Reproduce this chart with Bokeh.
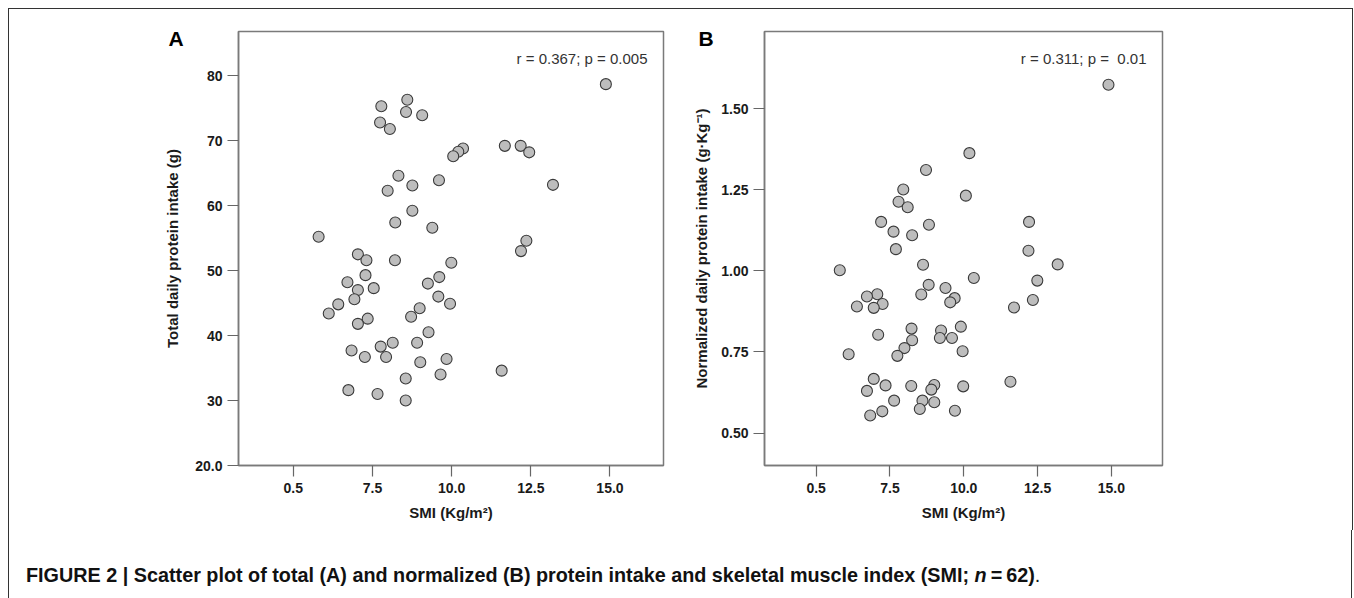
from bokeh.plotting import figure
from bokeh.models import Label, Div, NumeralTickFormatter, FixedTicker, Range1d
from bokeh.layouts import column, row
from bokeh.embed import file_html
from bokeh.resources import INLINE

# ---------------- data ----------------
smi_a = [14.87, 7.78, 8.6, 8.56, 9.07, 7.74, 8.05, 11.68, 12.18, 12.45,
         10.36, 10.21, 10.05, 8.32, 9.6, 8.76, 7.98, 13.2, 8.76, 8.22,
         9.39, 5.8, 12.36, 12.19, 7.04, 7.31, 8.21, 9.99, 7.28, 6.71,
         9.61, 9.25, 7.04, 7.54, 6.93, 6.42, 9.58, 9.95, 6.12, 8.99,
         8.72, 7.35, 7.04, 9.27, 6.84, 7.76, 8.14, 8.91, 7.26, 7.93,
         9.01, 9.84, 11.58, 8.55, 9.65, 6.74, 7.66, 8.55]
protein_total = [78.7, 75.3, 76.3, 74.4, 73.9, 72.8, 71.8, 69.2, 69.2, 68.2,
                 68.8, 68.3, 67.6, 64.6, 63.9, 63.1, 62.3, 63.2, 59.2, 57.4,
                 56.6, 55.2, 54.6, 53.0, 52.5, 51.6, 51.6, 51.2, 49.3, 48.2,
                 49.0, 48.0, 47.0, 47.3, 45.6, 44.8, 46.0, 44.9, 43.4, 44.2,
                 42.9, 42.6, 41.8, 40.5, 37.7, 38.3, 38.9, 38.9, 36.7, 36.7,
                 35.9, 36.4, 34.6, 33.4, 34.0, 31.6, 31.0, 30.0]

smi_b = [14.9, 10.19, 8.72, 7.95, 10.07, 7.79, 8.1, 7.2, 8.82, 12.21,
         7.62, 8.25, 7.7, 12.19, 5.8, 8.62, 13.18, 10.34, 12.49, 8.81,
         9.38, 7.07, 6.72, 8.56, 9.69, 9.54, 7.25, 6.38, 6.95, 11.7,
         12.34, 8.23, 9.23, 9.9, 7.1, 8.25, 9.19, 9.6, 7.99, 9.96,
         6.1, 7.75, 6.95, 11.58, 7.35, 8.22, 9.0, 8.9, 9.98, 6.72,
         7.64, 8.6, 9.0, 8.51, 9.7, 7.24, 6.83]
protein_norm = [1.574, 1.363, 1.311, 1.251, 1.232, 1.213, 1.196, 1.151, 1.142, 1.151,
                1.121, 1.11, 1.067, 1.062, 1.002, 1.019, 1.02, 0.978, 0.970, 0.957,
                0.947, 0.928, 0.921, 0.927, 0.916, 0.903, 0.898, 0.890, 0.886, 0.887,
                0.910, 0.822, 0.816, 0.828, 0.803, 0.786, 0.793, 0.793, 0.762, 0.752,
                0.743, 0.738, 0.667, 0.658, 0.647, 0.645, 0.648, 0.634, 0.644, 0.630,
                0.600, 0.600, 0.595, 0.574, 0.569, 0.567, 0.554]

x_ticks = [5.0, 7.5, 10.0, 12.5, 15.0]
x_tick_overrides = {5: "0.5"}
y_ticks_a = [20, 30, 40, 50, 60, 70, 80]
y_ticks_a_overrides = {20: "20.0"}
y_ticks_b = [0.5, 0.75, 1.0, 1.25, 1.5]

panel_labels = ["A", "B"]
stat_texts = ["r = 0.367; p = 0.005", "r = 0.311; p =\u00a0 0.01"]
x_label = "SMI (Kg/m\u00b2)"
y_labels = ["Total daily protein intake (g)",
            "Normalized daily protein intake (g\u00b7Kg\u207b\u00b9)"]
caption_main = "FIGURE 2 | Scatter plot of total (A) and normalized (B) protein intake and skeletal muscle index (SMI; "

FONT = "Liberation Sans"
FIG_H = 521


def make_panel(xs, ys, xr, yr, yticks, ylabel, letter, stat,
               mb_left, frame_w, mb_right, letter_offset, ylab_standoff,
               y_fmt=None, y_over=None):
    mb_top, frame_h = 22, 434
    mb_bottom = FIG_H - mb_top - frame_h
    p = figure(frame_width=frame_w, frame_height=frame_h,
               min_border_left=mb_left, min_border_right=mb_right,
               min_border_top=mb_top, min_border_bottom=mb_bottom,
               x_range=Range1d(*xr), y_range=Range1d(*yr),
               output_backend="svg", toolbar_location=None,
               background_fill_color="white", border_fill_color="white")
    p.grid.visible = False
    p.outline_line_color = "#7a7a7a"
    p.outline_line_width = 1.5

    # panel letter as the plot title, pulled down beside the frame's top-left corner
    p.title.text = letter
    p.title.align = "left"
    p.title.offset = letter_offset
    p.title.standoff = -36
    p.title.vertical_align = "bottom"
    p.title.text_font = FONT
    p.title.text_font_style = "bold"
    p.title.text_font_size = "21px"
    p.title.text_color = "black"

    for ax in (p.xaxis[0], p.yaxis[0]):
        ax.axis_line_color = "#7a7a7a"
        ax.axis_line_width = 1.5
        ax.major_tick_line_color = "#666666"
        ax.major_tick_line_width = 1.2
        ax.major_tick_in = 0
        ax.major_tick_out = 11
        ax.minor_tick_line_color = None
        ax.major_label_text_font = FONT
        ax.major_label_text_font_style = "bold"
        ax.major_label_text_font_size = "14px"
        ax.major_label_text_color = "#1a1a1a"
        ax.axis_label_text_font = FONT
        ax.axis_label_text_font_style = "bold"
        ax.axis_label_text_font_size = "15px"
        ax.axis_label_text_color = "#1a1a1a"

    p.xaxis.ticker = FixedTicker(ticks=x_ticks)
    p.xaxis.formatter = NumeralTickFormatter(format="0.0")
    p.xaxis.major_label_overrides = x_tick_overrides
    p.xaxis.major_label_standoff = 6
    p.xaxis.axis_label = x_label
    p.xaxis.axis_label_standoff = 8

    p.yaxis.ticker = FixedTicker(ticks=yticks)
    if y_fmt:
        p.yaxis.formatter = NumeralTickFormatter(format=y_fmt)
    if y_over:
        p.yaxis.major_label_overrides = y_over
    p.yaxis.major_label_standoff = 5
    p.yaxis.axis_label = ylabel
    p.yaxis.axis_label_standoff = ylab_standoff

    p.scatter(xs, ys, size=11, fill_color="#bdbdbd", line_color="#3a3a3a",
              line_width=1.1)

    p.add_layout(Label(x=frame_w - 16, y=frame_h - 27, x_units="screen", y_units="screen",
                       text=stat, text_font=FONT,
                       text_font_size="15px", text_color="#333333",
                       text_align="right", text_baseline="middle"))
    return p


pA = make_panel(smi_a, protein_total, (3.27, 16.69), (20.0, 86.8), y_ticks_a,
                y_labels[0], panel_labels[0], stat_texts[0],
                mb_left=229, frame_w=425, mb_right=27, letter_offset=-70,
                ylab_standoff=11, y_over=y_ticks_a_overrides)
pB = make_panel(smi_b, protein_norm, (3.25, 16.73), (0.40, 1.738), y_ticks_b,
                y_labels[1], panel_labels[1], stat_texts[1],
                mb_left=73, frame_w=398, mb_right=190, letter_offset=-66,
                ylab_standoff=8, y_fmt="0.00")

LINE = "#333333"


def vline(h):
    return Div(text="", width=1, height=h, margin=0, styles={"background": LINE})


cap_html = ('<div style="padding:31px 0 0 17px; font-family:\'Liberation Sans\'; '
            'font-weight:bold; font-size:19.8px; color:#111; white-space:nowrap;">'
            + caption_main + '<i>n</i>\u2009=\u200962)<span style="font-weight:normal">.</span></div>')
cap = Div(text=cap_html, width=1342, height=68, margin=0)

top_line = Div(text="", width=1345, height=1, margin=0, styles={"background": LINE})

layout = column(top_line,
                row(vline(FIG_H), pA, pB, vline(FIG_H)),
                row(vline(68), cap, vline(68)),
                margin=(8, 0, 0, 8))

open("out.html", "w").write(file_html(layout, INLINE))
